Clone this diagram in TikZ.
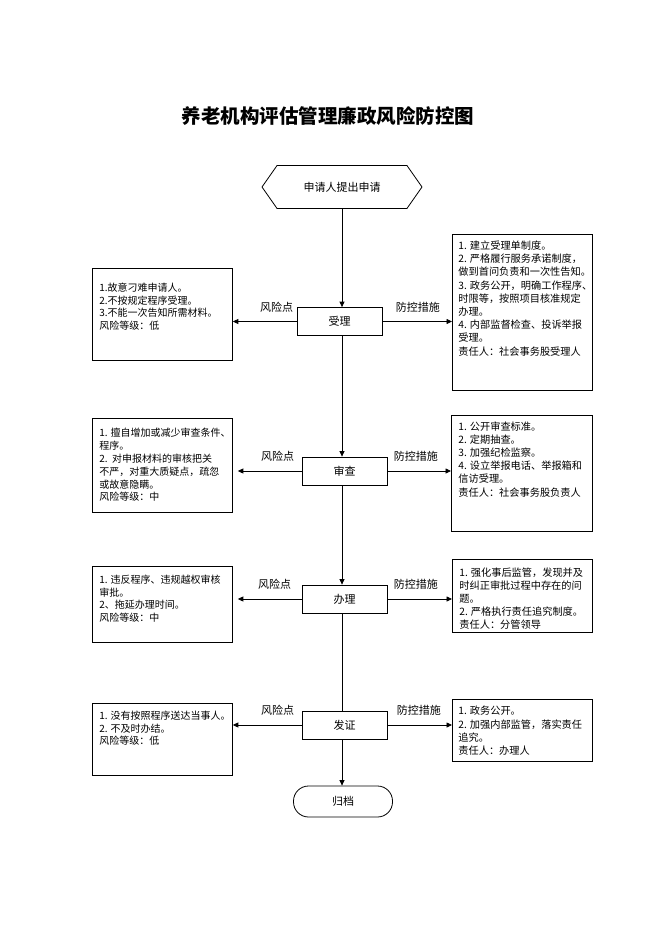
\documentclass[tikz,border=0pt]{standalone}
\usepackage{fontspec}
\setmainfont{Noto Sans CJK SC}
\usetikzlibrary{arrows.meta,shapes.symbols,positioning}
\XeTeXlinebreaklocale "zh"

\tikzset{every picture/.style={line width=0.8pt}}
\tikzset{
	stepnode/.style={draw, minimum width=85pt, minimum height=28pt, inner sep=0pt, font=\fontsize{11}{13}\selectfont},
	riskbox/.style={draw, anchor=north west, inner sep=0pt, font=\fontsize{10}{12.8}\selectfont},
	guardbox/.style={draw, anchor=north west, inner sep=0pt, font=\fontsize{10.2}{13.2}\selectfont},
	tag/.style={inner sep=1pt, font=\fontsize{11}{13}\selectfont},
	flow/.style={-{Triangle[length=5.5pt,width=5pt]}}}
\newcommand{\boxtext}[5]{\parbox[t][#2][t]{#1}{\vspace*{#3}\raggedright\leftskip=#4\relax #5}}

\begin{document}
\begin{tikzpicture}[x=1pt,y=1pt,yscale=-1,xscale=1]
	\useasboundingbox (0,0) rectangle (662,936);

	% Title
	\node[font=\fontsize{19.5}{22}\selectfont\bfseries] (title) at (328,116) {养老机构评估管理廉政风险防控图};

	% Flow nodes
	\node[draw, signal, signal to=west and east, signal pointer angle=110, minimum width=160pt, minimum height=43pt, inner sep=0pt, font=\fontsize{11}{13}\selectfont] (apply) at (342,187) {申请人提出申请};
	\node[stepnode] (accept) at (339.5,321.5) {受理};
	\node[stepnode] (review) at (344.5,471) {审查};
	\node[stepnode] (handle) at (344.5,599) {办理};
	\node[stepnode] (issue) at (344.5,725) {发证};
	\node[draw, rounded corners=15pt, minimum width=99pt, minimum height=31pt, font=\fontsize{11}{13}\selectfont] (archive) at (343,801.5) {归档};

	% Risk boxes
	\node[riskbox] (riskA) at (92,268) {\boxtext{140pt}{92pt}{14.5pt}{7pt}{1.故意刁难申请人。\\2.不按规定程序受理。\\3.不能一次告知所需材料。\\风险等级：低}};
	\node[riskbox] (riskB) at (92,418) {\boxtext{140pt}{94pt}{10pt}{7pt}{1. 擅自增加或减少审查条件、\\程序。\\2.\ \ 对申报材料的审核把关\\不严，对重大质疑点，疏忽\\或故意隐瞒。\\风险等级：中}};
	\node[riskbox] (riskC) at (92,566) {\boxtext{140pt}{76pt}{8.5pt}{7pt}{1. 违反程序、违规越权审核\\审批。\\2、拖延办理时间。\\风险等级：中}};
	\node[riskbox] (riskD) at (92,703) {\boxtext{140pt}{72pt}{7.5pt}{7pt}{1. 没有按照程序送达当事人。\\2. 不及时办结。\\风险等级：低}};

	% Control boxes
	\node[guardbox] (guardA) at (452,234) {\boxtext{140pt}{156pt}{6.5pt}{6pt}{1. 建立受理单制度。\\2. 严格履行服务承诺制度，\\做到首问负责和一次性告知。\\3. 政务公开，明确工作程序、\\时限等，按照项目核准规定\\办理。\\4. 内部监督检查、投诉举报\\受理。\\责任人：社会事务股受理人}};
	\node[guardbox] (guardB) at (451,415) {\boxtext{141pt}{116pt}{6pt}{7pt}{1. 公开审查标准。\\2. 定期抽查。\\3. 加强纪检监察。\\4. 设立举报电话、举报箱和\\信访受理。\\责任人：社会事务股负责人}};
	\node[guardbox] (guardC) at (452,559) {\boxtext{140pt}{73pt}{8pt}{7pt}{1. 强化事后监管，发现并及\\时纠正审批过程中存在的问\\题。\\2. 严格执行责任追究制度。\\责任人：分管领导}};
	\node[guardbox] (guardD) at (452,699) {\boxtext{140pt}{62pt}{7pt}{6pt}{1. 政务公开。\\2. 加强内部监管，落实责任\\追究。\\责任人：办理人}};

	% Tags
	\node[tag, anchor=east] (riskTagA) at ([xshift=-2pt]accept.north west) {风险点};
	\node[tag, anchor=east] (riskTagB) at ([xshift=-6pt]review.north west) {风险点};
	\node[tag, anchor=east] (riskTagC) at ([xshift=-9pt]handle.north west) {风险点};
	\node[tag, anchor=east] (riskTagD) at ([xshift=-6pt]issue.north west) {风险点};
	\node[tag, anchor=west] (guardTagA) at ([xshift=12pt]accept.north east) {防控措施};
	\node[tag, anchor=west] (guardTagB) at ([xshift=5pt]review.north east) {防控措施};
	\node[tag, anchor=west] (guardTagC) at ([xshift=5pt]handle.north east) {防控措施};
	\node[tag, anchor=west] (guardTagD) at ([xshift=8pt]issue.north east) {防控措施};

	% Main line
	\draw[flow] (apply.south) -- (apply.south |- accept.north);
	\draw[flow] (apply.south |- accept.south) -- (apply.south |- review.north);
	\draw[flow] (apply.south |- review.south) -- (apply.south |- handle.north);
	\draw (apply.south |- handle.south) -- (apply.south |- issue.north);
	\draw[flow] (apply.south |- issue.south) -- (apply.south |- archive.north);

	% Side arrows
	\draw[flow] (accept.west) -- (accept.west -| riskA.east);
	\draw[flow] (accept.east) -- (accept.east -| guardA.west);
	\draw[flow, shorten >=5pt] (review.west) -- (review.west -| riskB.east);
	\draw[flow] (review.east) -- (review.east -| guardB.west);
	\draw[flow, shorten >=5pt] (handle.west) -- (handle.west -| riskC.east);
	\draw[flow] (handle.east) -- (handle.east -| guardC.west);
	\draw[flow] (issue.west) -- (issue.west -| riskD.east);
	\draw[flow] (issue.east) -- (issue.east -| guardD.west);

\end{tikzpicture}
\end{document}
